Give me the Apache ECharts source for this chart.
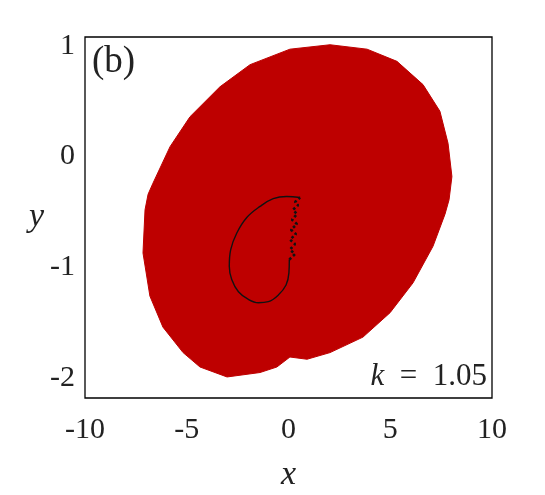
<!DOCTYPE html>
<html>
<head>
<meta charset="utf-8">
<script src="https://cdn.jsdelivr.net/npm/echarts@6/dist/echarts.min.js"></script>
<style>
  html, body { margin: 0; padding: 0; background: #fff; }
  #main { width: 545px; height: 495px; }
</style>
</head>
<body>
<div id="main"></div>
<script>
  // outline of the red region, clockwise from the top
  var shapeX = [2.04, 3.86, 5.33, 6.61, 7.44, 7.84, 8.03, 7.89, 7.69, 7.10, 6.12, 4.99, 3.66, 2.04, 0.91, 0.07,
    -0.57, -1.40, -3.02, -4.35, -5.18, -6.17, -6.81, -7.15, -7.05, -6.90, -6.66, -5.82, -4.84, -3.37, -1.89, 0.07]
  var shapeY = [1.01, 0.97, 0.86, 0.65, 0.41, 0.12, -0.18, -0.39, -0.52, -0.81, -1.14, -1.41, -1.63, -1.77, -1.83, -1.81,
    -1.90, -1.95, -1.99, -1.90, -1.77, -1.54, -1.26, -0.87, -0.48, -0.34, -0.24, 0.09, 0.36, 0.63, 0.83, 0.97]

  // black orbit loop
  var loopX = [0.57, -0.09, -0.75, -1.40, -2.05, -2.54, -2.84, -2.91, -2.79, -2.46, -1.97, -1.48, -0.99, -0.50, -0.12, 0.02, 0.04]
  var loopY = [-0.37, -0.36, -0.38, -0.45, -0.55, -0.69, -0.84, -0.99, -1.11, -1.22, -1.29, -1.32, -1.31, -1.25, -1.16, -1.05, -0.93]
  // zigzag part near x = 0
  var zigX = [0.04, 0.32, 0.07, 0.32, 0.07, 0.37, 0.12, 0.42, 0.17, 0.42, 0.22, 0.47, 0.32, 0.57]
  var zigY = [-0.93, -0.88, -0.84, -0.79, -0.75, -0.70, -0.66, -0.61, -0.57, -0.52, -0.48, -0.44, -0.41, -0.37]

  var xTicks = [-10, -5, 0, 5, 10]
  var yTicks = [-2, -1, 0, 1]

  var zip = function (xs, ys) { return xs.map(function (v, i) { return [v, ys[i]] }) }

  var chart = echarts.init(document.getElementById('main'))
  var serif = '"Liberation Serif", "DejaVu Serif", serif'
  var option = {
    backgroundColor: '#ffffff',
    animation: false,
    grid: {
      left: 85, top: 37, width: 407, height: 361, outerBoundsMode: 'none',
      show: true, borderColor: '#000', borderWidth: 1.3, backgroundColor: 'transparent'
    },
    xAxis: {
      type: 'value', min: -10, max: 10,
      axisLine: {show: false}, axisTick: {show: false}, splitLine: {show: false},
      axisLabel: {customValues: xTicks, fontFamily: serif, fontSize: 30, color: '#222', margin: 17},
      name: 'x', nameLocation: 'middle', nameGap: 60,
      nameTextStyle: {fontFamily: serif, fontStyle: 'italic', fontSize: 34, color: '#222'}
    },
    yAxis: {
      type: 'value', min: -2.18, max: 1.08,
      axisLine: {show: false}, axisTick: {show: false}, splitLine: {show: false},
      axisLabel: {customValues: yTicks, fontFamily: serif, fontSize: 30, color: '#222', margin: 10},
      name: 'y', nameLocation: 'middle', nameGap: 30, nameRotate: 0,
      nameTextStyle: {fontFamily: serif, fontStyle: 'italic', fontSize: 34, color: '#222', padding: [0, 0, 34, 0]}
    },
    series: [
      {
        type: 'custom',
        data: [0],
        z: 1,
        renderItem: function (params, api) {
          var pts = zip(shapeX, shapeY).map(function (p) { return api.coord(p) })
          return {type: 'polygon', shape: {points: pts}, style: {fill: '#be0000', stroke: '#be0000', lineWidth: 1}}
        }
      },
      {
        type: 'line', data: zip(loopX, loopY), smooth: 0.4, symbol: 'none', z: 3,
        lineStyle: {color: '#111', width: 1.4}
      },
      {
        type: 'line', data: zip(zigX, zigY), symbol: 'none', z: 3,
        lineStyle: {color: '#111', width: 2.6, type: 'dotted'}
      }
    ],
    graphic: [
      {type: 'text', left: 92, top: 44, style: {text: '(b)', font: '37px ' + serif, fill: '#222'}},
      {type: 'text', right: 58, top: 361, style: {
        rich: {
          k: {fontFamily: serif, fontStyle: 'italic', fontSize: 31, fill: '#222'},
          n: {fontFamily: serif, fontSize: 31, fill: '#222'}
        },
        text: '{k|k}{n|  =  1.05}'
      }}
    ]
  }
  chart.setOption(option)
</script>
</body>
</html>
